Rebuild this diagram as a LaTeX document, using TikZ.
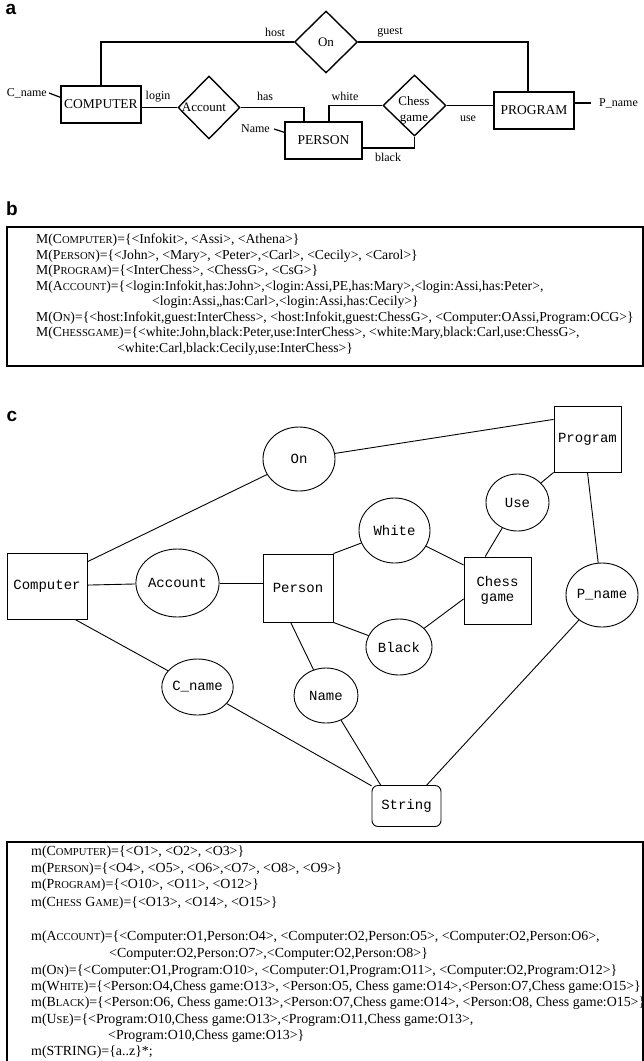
\documentclass[tikz,border=0pt]{standalone}
\usepackage{fontspec}
\setmainfont{Liberation Serif}
\setmonofont{Liberation Mono}
\setsansfont{Liberation Sans}
\usetikzlibrary{shapes.geometric,calc}

% reduced capitals for the relation names
\newcommand\redcap[1]{{\fontsize{10.6}{10.6}\selectfont #1}}
\newcommand\rowfontb{\fontsize{13.7}{13.7}\selectfont}
\newcommand\rowfontd{\fontsize{13.9}{13.9}\selectfont}

\begin{document}
\begin{tikzpicture}[x=1pt,y=-1pt,
  panel/.style={font=\sffamily\bfseries\fontsize{19}{19}\selectfont, inner sep=0},
  ent/.style={draw, line width=1.4pt, inner sep=0, font=\fontsize{13.5}{13.5}\selectfont},
  rel/.style={draw, diamond, line width=1.4pt, inner sep=0, font=\fontsize{13}{13}\selectfont},
  erline/.style={line width=1.4pt},
  role/.style={inner sep=0, font=\fontsize{12}{12}\selectfont},
  rowb/.style={anchor=west, inner sep=0, font=\rowfontb},
  rowd/.style={anchor=west, inner sep=0, font=\rowfontd},
  frame/.style={line width=1.1pt},
  gbox/.style={draw, line width=0.9pt, inner sep=0, font=\ttfamily\fontsize{14}{15}\selectfont, align=center},
  gcirc/.style={draw, ellipse, line width=0.9pt, inner sep=0, font=\ttfamily\fontsize{14}{15}\selectfont},
  gline/.style={line width=0.9pt}]
\useasboundingbox (0,0) rectangle (644,1061);

% ---------------- (a) entity-relationship diagram ----------------
\node[panel] (la) at (11,9) {a};

\node[ent, minimum width=80pt, minimum height=37pt] (comp) at (101,104.5) {COMPUTER};
\node[ent, minimum width=77pt, minimum height=37pt] (per) at (323.5,140.5) {PERSON};
\node[ent, minimum width=80pt, minimum height=37pt] (prog) at (534,110.5) {PROGRAM};

\node[rel, minimum width=63pt, minimum height=62pt] (on) at (326,42) {On};
\node[rel, minimum width=62pt, minimum height=63pt] (acc) at (209,107.5) {};
\node[inner sep=0, font=\fontsize{13}{13}\selectfont] (acct) at (204,107) {Account};
\node[rel, minimum width=63pt, minimum height=61pt] (chess) at (414.5,105.5) {};
\node[inner sep=0, align=center, font=\fontsize{13}{16}\selectfont] (chesst) at (414,110) {Chess\\game};

\draw[erline] (comp.north) |- (on.west);
\draw[erline] (on.east) -| ([xshift=-6pt]prog.north);
\draw[erline] (acc.west) -- (acc.west -| comp.east);
\draw[erline] (acc.east) -| ([xshift=-19.5pt]per.north);
\draw[erline] ([xshift=5.5pt]per.north) |- (chess.west);
\draw[erline] ([yshift=-7.5pt]per.east) -| (chess.south);
\draw[erline] (chess.east) -- (chess.east -| prog.west);

\node[role] (lhost) at (275,32) {host};
\node[role] (lguest) at (390,32) {guest};
\node[role] (llogin) at (158,97) {login};
\node[role] (lhas) at (265,96) {has};
\node[role] (lwhite) at (345,96) {white};
\node[role] (lblack) at (388,157) {black};
\node[role] (luse) at (468,119) {use};

\node[role, anchor=east, inner xsep=2pt] (cnl) at (49,93) {C\_name};
\draw[line width=1.2pt] (cnl.east) -- ([yshift=-12pt]comp.north west);
\node[role, anchor=east, inner xsep=4pt] (nml) at (274,129) {Name};
\draw[line width=1.2pt] (nml.east) -- ([yshift=-11pt]per.north west);
\node[role, anchor=west, inner xsep=8pt] (pnl) at (591,103) {P\_name};
\draw[line width=1.2pt] ([yshift=7.5pt]prog.east) -- (pnl.west);

% ---------------- (b) extension of the entities and relations ----------------
\node[panel] (lb) at (12,209) {b};
\draw[frame] (7,227) rectangle (643,366);
\node[rowb] (b1) at (36,240) {M(C\redcap{OMPUTER})=\{<Infokit>, <Assi>, <Athena>\}};
\node[rowb] (b2) at (36,256) {M(P\redcap{ERSON})=\{<John>, <Mary>, <Peter>,<Carl>, <Cecily>, <Carol>\}};
\node[rowb] (b3) at (36,271) {M(P\redcap{ROGRAM})=\{<InterChess>, <ChessG>, <CsG>\}};
\node[rowb] (b4) at (36,287) {M(A\redcap{CCOUNT})=\{<login:Infokit,has:John>,<login:Assi,PE,has:Mary>,<login:Assi,has:Peter>,};
\node[rowb] (b5) at (152,302) {<login:Assi,,has:Carl>,<login:Assi,has:Cecily>\}};
\node[rowb] (b6) at (36,318) {M(O\redcap{N})=\{<host:Infokit,guest:InterChess>, <host:Infokit,guest:ChessG>, <Computer:OAssi,Program:OCG>\}};
\node[rowb] (b7) at (36,333) {M(C\redcap{HESSGAME})=\{<white:John,black:Peter,use:InterChess>, <white:Mary,black:Carl,use:ChessG>,};
\node[rowb] (b8) at (117,349) {<white:Carl,black:Cecily,use:InterChess>\}};

% ---------------- (c) object graph ----------------
\node[panel] (lc) at (12,416) {c};

\node[gbox, minimum width=80pt, minimum height=66pt] (gcomp) at (47,586) {Computer};
\node[gbox, minimum width=70pt, minimum height=68pt] (gper) at (298,588) {Person};
\node[gbox, minimum width=67pt, minimum height=67pt] (gchess) at (497.5,590.5) {Chess\\game};
\node[gbox, minimum width=67pt, minimum height=66pt] (gprog) at (587.5,439) {Program};
\node[gbox, rounded corners=6pt, minimum width=69pt, minimum height=41pt] (gstr) at (406.5,806) {String};

\node[gcirc, minimum width=72pt, minimum height=64pt] (gon) at (299,459) {On};
\node[gcirc, minimum width=71pt, minimum height=68pt] (gacc) at (177.5,583) {Account};
\node[gcirc, minimum width=71pt, minimum height=65pt] (gwhite) at (394.5,530.5) {White};
\node[gcirc, minimum width=66pt, minimum height=56pt] (gblack) at (399,647) {Black};
\node[gcirc, minimum width=63pt, minimum height=57pt] (guse) at (517.5,502.5) {Use};
\node[gcirc, minimum width=72pt, minimum height=64pt] (gpname) at (602,595) {P\_name};
\node[gcirc, minimum width=67pt, minimum height=56pt] (gcname) at (197.5,687) {C\_name};
\node[gcirc, minimum width=64pt, minimum height=55pt] (gname) at (326,695.5) {Name};

\draw[gline] (gcomp.31) -- (gon);
\draw[gline] (gon) -- (gprog.150);
\draw[gline] (gcomp) -- (gacc);
\draw[gline] (gacc.east) -- (gacc.east -| gper.west);
\draw[gline] (gper.north east) -- (gwhite);
\draw[gline] (gwhite) -- (gchess.143);
\draw[gline] (gper.south east) -- (gblack);
\draw[gline] (gblack) -- (gchess.194);
\draw[gline] (gchess.110) -- (guse);
\draw[gline] (guse) -- (gprog.south west);
\draw[gline] (gprog.south) -- (gpname);
\draw[gline] (gcomp.310) -- (gcname);
\draw[gline] (gcname) -- (gstr.150);
\draw[gline] (gper.258) -- (gname);
\draw[gline] (gname) -- (gstr.141);
\draw[gline] (gpname) -- (gstr.46);

% ---------------- (d) object sets ----------------
\draw[frame] (7,1061) -- (7,842) -- (643,842) -- (643,1061);
\node[rowd] (d1) at (31,852) {m(C\redcap{OMPUTER})=\{<O1>, <O2>, <O3>\}};
\node[rowd] (d2) at (31,869) {m(P\redcap{ERSON})=\{<O4>, <O5>, <O6>,<O7>, <O8>, <O9>\}};
\node[rowd] (d3) at (31,885) {m(P\redcap{ROGRAM})=\{<O10>, <O11>, <O12>\}};
\node[rowd] (d4) at (31,903) {m(C\redcap{HESS} G\redcap{AME})=\{<O13>, <O14>, <O15>\}};
\node[rowd] (d5) at (31,937) {m(A\redcap{CCOUNT})=\{<Computer:O1,Person:O4>, <Computer:O2,Person:O5>, <Computer:O2,Person:O6>,};
\node[rowd] (d6) at (109,954) {<Computer:O2,Person:O7>,<Computer:O2,Person:O8>\}};
\node[rowd] (d7) at (31,971) {m(O\redcap{N})=\{<Computer:O1,Program:O10>, <Computer:O1,Program:O11>, <Computer:O2,Program:O12>\}};
\node[rowd] (d8) at (31,987) {m(W\redcap{HITE})=\{<Person:O4,Chess game:O13>, <Person:O5, Chess game:O14>,<Person:O7,Chess game:O15>\}};
\node[rowd] (d9) at (31,1003) {m(B\redcap{LACK})=\{<Person:O6, Chess game:O13>,<Person:O7,Chess game:O14>, <Person:O8, Chess game:O15>\}};
\node[rowd] (d10) at (31,1020) {m(U\redcap{SE})=\{<Program:O10,Chess game:O13>,<Program:O11,Chess game:O13>,};
\node[rowd] (d11) at (108,1036) {<Program:O10,Chess game:O13>\}};
\node[rowd] (d12) at (31,1052) {m(STRING)=\{a..z\}*;};
\end{tikzpicture}
\end{document}
